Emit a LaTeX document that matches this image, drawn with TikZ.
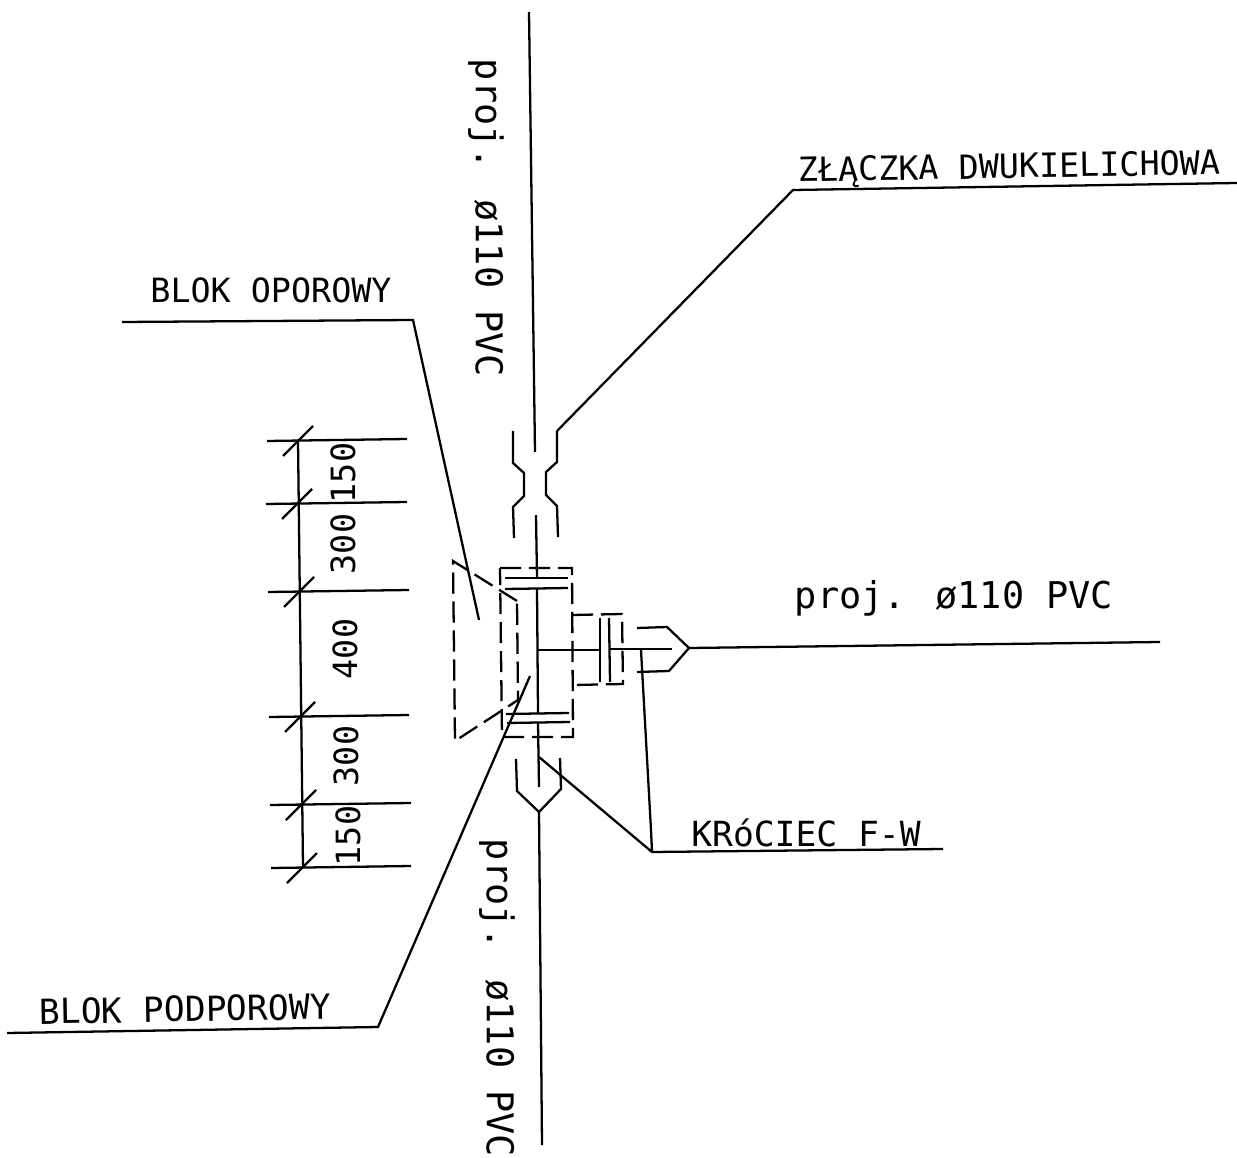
\documentclass[tikz,border=0pt]{standalone}
\usepackage{fontspec}
\setmainfont{DejaVu Sans Mono}

\tikzset{
    rys/.style={line width=1.3pt},
    ukryty/.style={rys, dash pattern=on 12pt off 4.5pt},
    opis/.style={inner sep=0pt, font=\fontsize{19}{20}\selectfont},
    opisw/.style={inner sep=0pt, font=\fontsize{19.7}{20}\selectfont},
    rura/.style={inner sep=0pt, font=\fontsize{21}{24}\selectfont},
    wymiar/.style={inner sep=0pt, rotate=90, font=\fontsize{19}{22}\selectfont},
}

\begin{document}
\begin{tikzpicture}[x=0.02cm,y=-0.02cm]
        \useasboundingbox (0,0) rectangle (1237,1158);

        \node [rura, rotate=-90] (rurag) at (486,218) {proj. ø110 PVC};
        \node [rura, rotate=-90] (rurad) at (497,998) {proj. ø110 PVC};
        \node [rura] (rurap) at (954,598) {proj. ø110 PVC};
        \node [opis, rotate=1] (zlaczka) at (1009,169) {ZŁĄCZKA DWUKIELICHOWA};
        \node [opis] (oporowy) at (271,290) {BLOK OPOROWY};
        \node [opisw, rotate=1] (podporowy) at (185,1009) {BLOK PODPOROWY};
        \node [opisw] (krociec) at (806,833) {KRóCIEC F-W};

        \coordinate (a) at (529,12);
        \coordinate (b) at (535,452);
        \coordinate (c) at (536,515);
        \coordinate (d) at (537,578);
        \coordinate (e) at (537,589);
        \coordinate (f) at (538,713);
        \coordinate (g) at (538,723);
        \coordinate (h) at (539,787);
        \coordinate (i) at (539,812);
        \coordinate (j) at (542,1145);
        \coordinate (k) at (689,648);
        \coordinate (l) at (1160,642);
        \coordinate (m) at (652,852);

        \draw [rys] (a) -- (b);
        \draw [rys] (c) -- (d);
        \draw [rys] (e) -- (f);
        \draw [rys] (g) -- (h);
        \draw [rys] (i) -- (j);
        \draw [rys] (k) -- (l);

        \draw [rys] (513,431) -- (513,463) -- (524,473) -- (524,496) -- (513,507) -- (514,538);
        \draw [rys] (557,431) -- (557,462) -- (546,472) -- (546,495) -- (557,506) -- (558,537);

        \draw [rys] (505,578) -- (568,578);
        \draw [rys] (505,589) -- (568,588);
        \draw [rys] (506,714) -- (569,713);
        \draw [rys] (507,723) -- (570,722);
        \draw [rys] (538,650) -- (599,650);
        \draw [rys] (610,649) -- (672,649);
        \draw [rys] (600,618) -- (600,682);
        \draw [rys] (609,618) -- (610,682);
        \draw [rys] (637,628) -- (667,627) -- (k) -- (669,671) -- (637,672);
        \draw [rys] (516,759) -- (517,791) -- (i) -- (561,789) -- (560,758);

        \draw [ukryty] (500,568) -- (572,568) -- (573,737) -- (502,737) -- cycle;
        \draw [ukryty] (572,615) -- (622,614) -- (623,684) -- (573,685);
        \draw [ukryty] (517,601) -- (453,561) -- (455,741) -- (518,700) -- cycle;

        \draw [rys] (479,620) -- (413,320) -- (122,322);
        \draw [rys] (557,431) -- (793,190) -- (1237,183);
        \draw [rys] (530,676) -- (378,1027) -- (7,1033);
        \draw [rys] (539,757) -- (m) -- (943,849);
        \draw [rys] (641,650) -- (651,830) -- (m);

        \draw [rys] (298,440) -- (303,867);
        \foreach \xa/\ya/\xb/\yb in {267/441/407/439, 266/504/407/502, 268/592/409/590, 269/717/409/715, 270/805/411/803, 271/868/411/866} {
            \draw [rys] (\xa,\ya) -- (\xb,\yb);
            \draw [rys] (\xa+16,\ya+15) -- (\xa+46,\ya-15);
        }

        \node [wymiar] (w150g) at (343,473) {150};
        \node [wymiar] (w300g) at (343,544) {300};
        \node [wymiar] (w400) at (345,649) {400};
        \node [wymiar] (w300d) at (346,756) {300};
        \node [wymiar] (w150d) at (348,836) {150};
\end{tikzpicture}
\end{document}
